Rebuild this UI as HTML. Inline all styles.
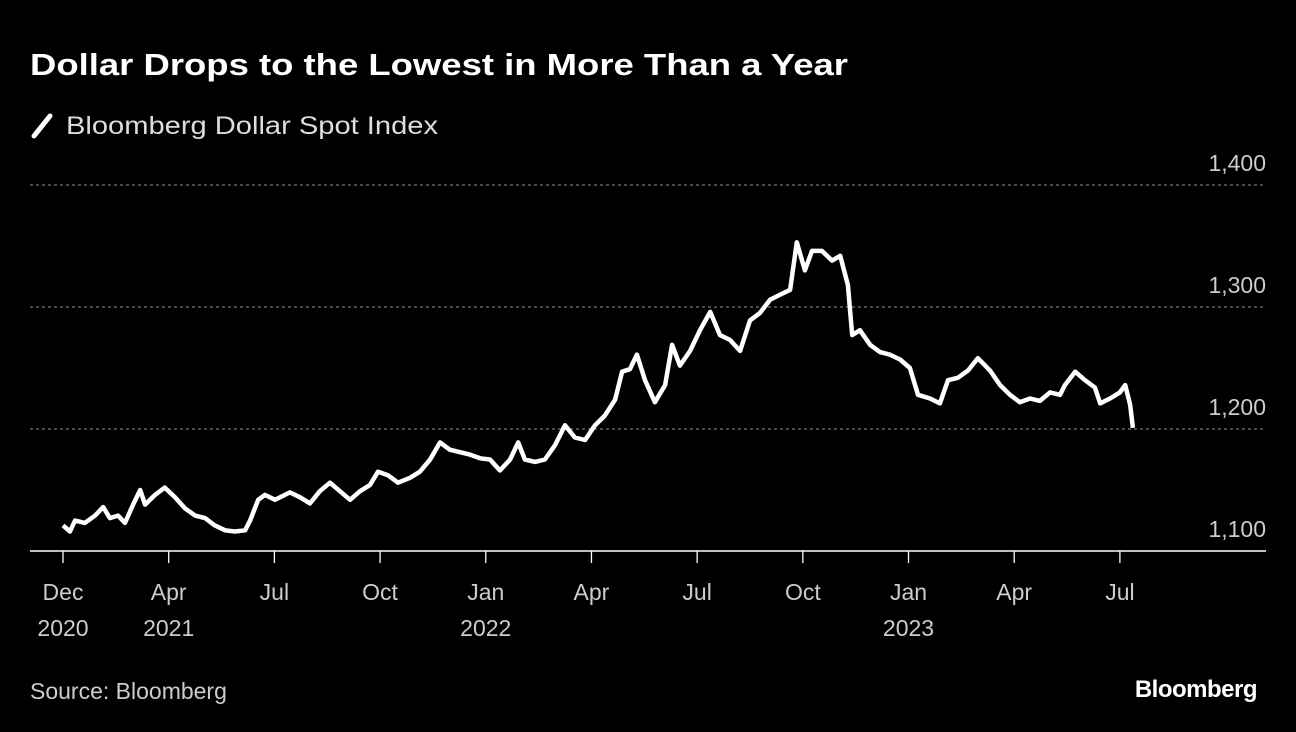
<!DOCTYPE html>
<html><head><meta charset="utf-8"><style>
html,body{margin:0;padding:0;background:#000;}
svg{display:block;font-family:"Liberation Sans",sans-serif;}
</style></head><body>
<svg id="chart" width="1296" height="732" viewBox="0 0 1296 732">
<rect width="1296" height="732" fill="#000"/>
<text x="30" y="75" fill="#fff" font-size="31" font-weight="bold" textLength="818" lengthAdjust="spacingAndGlyphs">Dollar Drops to the Lowest in More Than a Year</text>
<line x1="34" y1="136" x2="50" y2="116" stroke="#fff" stroke-width="5" stroke-linecap="round"/>
<text x="66" y="134" fill="#ddd" font-size="25" textLength="372" lengthAdjust="spacingAndGlyphs">Bloomberg Dollar Spot Index</text>
<g id="grid"></g>
<g id="yt"></g>
<g id="xt"></g>
<path id="line" fill="none" stroke="#fff" stroke-width="4.5" stroke-linejoin="round"/>
<text x="30" y="699" fill="#ccc" font-size="23">Source: Bloomberg</text>
<text x="1257" y="697" fill="#fff" font-size="24" font-weight="bold" text-anchor="end" letter-spacing="-0.5">Bloomberg</text>
</svg>
<script>
const months=[0,0.2,0.34,0.62,0.91,1.14,1.33,1.56,1.76,1.99,2.19,2.33,2.61,2.89,3.18,3.46,3.75,4.03,4.31,4.6,4.88,5.17,5.31,5.54,5.73,6.02,6.44,6.73,7.01,7.29,7.58,7.86,8.15,8.43,8.71,8.94,9.23,9.51,9.85,10.13,10.42,10.7,10.98,11.27,11.55,11.84,12.12,12.4,12.69,12.92,13.11,13.4,13.68,13.97,14.25,14.53,14.82,15.1,15.38,15.67,15.87,16.09,16.29,16.52,16.8,17.09,17.29,17.51,17.8,18.08,18.37,18.65,18.93,19.22,19.5,19.78,20.07,20.35,20.64,20.83,21.06,21.26,21.54,21.83,22.06,22.28,22.4,22.62,22.91,23.19,23.47,23.76,24.04,24.27,24.61,24.89,25.12,25.4,25.69,25.97,26.31,26.6,26.88,27.16,27.45,27.73,28.02,28.3,28.44,28.73,29.01,29.29,29.44,29.72,30,30.15,30.29,30.37];
const values=[1121,1116,1125,1123,1129,1136,1127,1129,1123,1138,1150,1138,1146,1152,1144,1135,1129,1127,1121,1117,1116,1117,1125,1142,1146,1142,1148,1144,1139,1149,1156,1149,1142,1149,1154,1165,1162,1156,1160,1165,1175,1189,1183,1181,1179,1176,1175,1166,1175,1189,1175,1173,1175,1187,1203,1193,1191,1203,1211,1224,1247,1249,1261,1240,1222,1236,1269,1252,1264,1281,1296,1277,1273,1264,1289,1295,1306,1310,1314,1353,1330,1346,1346,1338,1342,1318,1277,1281,1269,1263,1261,1257,1250,1228,1225,1221,1240,1242,1248,1258,1248,1236,1228,1222,1225,1223,1230,1228,1236,1247,1240,1234,1221,1225,1230,1236,1220,1201];
const yTicks=[1100,1200,1300,1400];
const yTickLabels=["1,100","1,200","1,300","1,400"];
const xTickMonths=[0,3,6,9,12,15,18,21,24,27,30];
const xTickLabels=[["Dec","2020"],["Apr","2021"],["Jul"],["Oct"],["Jan","2022"],["Apr"],["Jul"],["Oct"],["Jan","2023"],["Apr"],["Jul"]];
const NS="http://www.w3.org/2000/svg";
const x=m=>63+m*35.23;
const y=v=>551-(v-1100)*1.22;
function mk(t,a,p){const e=document.createElementNS(NS,t);for(const k in a)e.setAttribute(k,a[k]);p.appendChild(e);return e;}
const grid=document.getElementById('grid'),yt=document.getElementById('yt'),xt=document.getElementById('xt');
yTicks.forEach((v,i)=>{
  if(i>0){const l=mk('line',{x1:30,x2:1266,y1:y(v),y2:y(v),stroke:'#777','stroke-width':1.3,'stroke-dasharray':'3,3'},grid);
  
  }
  const t=mk('text',{x:1266,y:y(v)-14,fill:'#ccc','font-size':23,'text-anchor':'end'},yt);
  t.textContent=yTickLabels[i];
  
  
});
const base=mk('line',{x1:30,x2:1266,y1:551,y2:551,stroke:'#fff','stroke-width':1.5},xt);


xTickMonths.forEach((m,i)=>{
  const tk=mk('line',{x1:x(m),x2:x(m),y1:551,y2:563,stroke:'#fff','stroke-width':1.3},xt);
  
  
  xTickLabels[i].forEach((s,j)=>{
    const t=mk('text',{x:x(m),y:600+j*36,fill:'#ccc','font-size':23,'text-anchor':'middle'},xt);
    t.textContent=s;
    
    
  });
});
document.getElementById('line').setAttribute('d',months.map((m,i)=>(i?'L':'M')+x(m).toFixed(1)+','+y(values[i]).toFixed(1)).join(''));
</script>
</body></html>
